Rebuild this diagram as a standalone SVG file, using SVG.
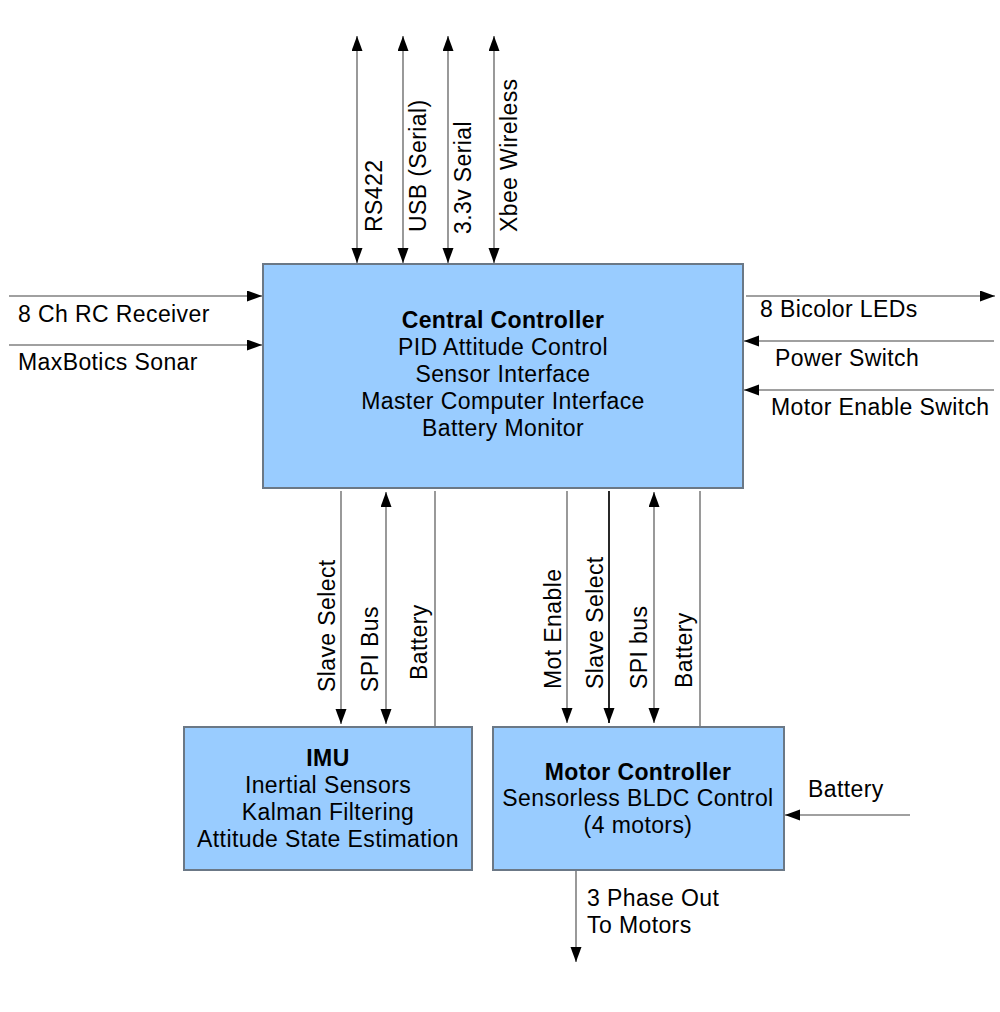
<svg xmlns="http://www.w3.org/2000/svg" width="1000" height="1012" viewBox="0 0 1000 1012">
<defs>
<style>
text{font-family:"Liberation Sans",Arial,sans-serif;font-size:23px;fill:#000;letter-spacing:0.4px}
.b{font-weight:bold}
.m{text-anchor:middle}
.box{fill:#99ccff;stroke:#6b7886;stroke-width:2}
.ln{stroke:#808080;stroke-width:1.6;fill:none}
.dk{stroke:#111;stroke-width:1.8;fill:none}
.ae{marker-end:url(#ah)}
.as{marker-start:url(#ah)}
</style>
<marker id="ah" markerUnits="userSpaceOnUse" markerWidth="16" markerHeight="12" refX="15" refY="5.5" orient="auto-start-reverse">
<path d="M0,0 L15,5.5 L0,11 z" fill="#000"/>
</marker>
</defs>
<rect width="1000" height="1012" fill="#fff"/>

<g id="connectors">
<line class="ln as ae" x1="357" y1="36" x2="357" y2="263"/>
<line class="ln as ae" x1="403" y1="36" x2="403" y2="263"/>
<line class="ln as ae" x1="448" y1="36" x2="448" y2="263"/>
<line class="ln as ae" x1="494" y1="36" x2="494" y2="263"/>
<line class="ln ae" x1="9" y1="296" x2="262" y2="296"/>
<line class="ln ae" x1="9" y1="345" x2="262" y2="345"/>
<line class="ln ae" x1="746" y1="296" x2="995" y2="296"/>
<line class="ln ae" x1="994" y1="341" x2="744" y2="341"/>
<line class="ln ae" x1="994" y1="390" x2="744" y2="390"/>
<line class="ln ae" x1="341" y1="491" x2="341" y2="724"/>
<line class="ln as ae" x1="386" y1="492" x2="386" y2="724"/>
<line class="ln" x1="435" y1="491" x2="435" y2="726"/>
<line class="ln ae" x1="567" y1="491" x2="567" y2="723"/>
<line class="dk ae" x1="609" y1="491" x2="609" y2="723"/>
<line class="ln as ae" x1="654" y1="492" x2="654" y2="723"/>
<line class="ln" x1="700" y1="491" x2="700" y2="726"/>
<line class="ln ae" x1="910" y1="815" x2="785" y2="815"/>
<line class="ln ae" x1="576" y1="871" x2="576" y2="962"/>
<text transform="translate(382,232) rotate(-90)">RS422</text>
<text transform="translate(426,232) rotate(-90)">USB (Serial)</text>
<text transform="translate(471,234) rotate(-90)">3.3v Serial</text>
<text transform="translate(517,232) rotate(-90)">Xbee Wireless</text>
<text x="18" y="322">8 Ch RC Receiver</text>
<text x="18" y="370">MaxBotics Sonar</text>
<text x="760" y="317">8 Bicolor LEDs</text>
<text x="775" y="366">Power Switch</text>
<text x="771" y="415">Motor Enable Switch</text>
<text transform="translate(335,692) rotate(-90)">Slave Select</text>
<text transform="translate(378,692) rotate(-90)">SPI Bus</text>
<text transform="translate(427,680) rotate(-90)">Battery</text>
<text transform="translate(561,689) rotate(-90)">Mot Enable</text>
<text transform="translate(603,689) rotate(-90)">Slave Select</text>
<text transform="translate(647,689) rotate(-90)">SPI bus</text>
<text transform="translate(692,688) rotate(-90)">Battery</text>
<text x="808" y="797">Battery</text>
<text x="587" y="906">3 Phase Out</text>
<text x="587" y="933">To Motors</text>
</g>

<g id="central-controller">
<rect class="box" x="263" y="264" width="480" height="224"/>
<text class="m b" x="503" y="328">Central Controller</text>
<text class="m" x="503" y="355">PID Attitude Control</text>
<text class="m" x="503" y="382">Sensor Interface</text>
<text class="m" x="503" y="409">Master Computer Interface</text>
<text class="m" x="503" y="436">Battery Monitor</text>
</g>

<g id="imu">
<rect class="box" x="184" y="727" width="288" height="143"/>
<text class="m b" x="328" y="766">IMU</text>
<text class="m" x="328" y="793">Inertial Sensors</text>
<text class="m" x="328" y="820">Kalman Filtering</text>
<text class="m" x="328" y="847">Attitude State Estimation</text>
</g>

<g id="motor-controller">
<rect class="box" x="493" y="727" width="291" height="143"/>
<text class="m b" x="638" y="780">Motor Controller</text>
<text class="m" x="638" y="806">Sensorless BLDC Control</text>
<text class="m" x="638" y="833">(4 motors)</text>
</g>
</svg>
